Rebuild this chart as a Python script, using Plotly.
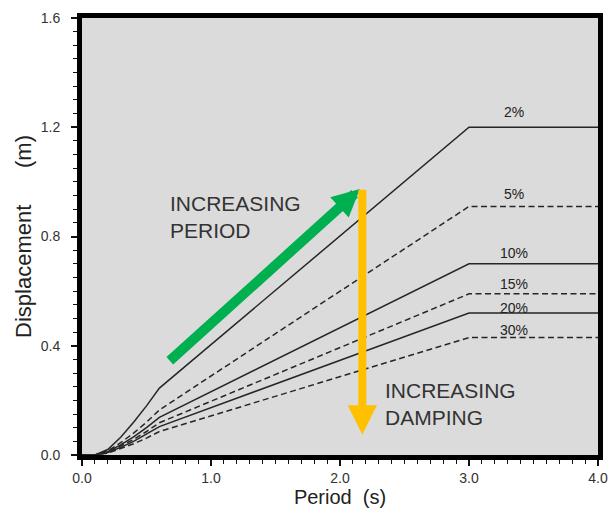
import plotly.graph_objects as go

# Data
periods = [0.0, 0.1, 0.2, 0.3, 0.4, 0.5, 0.6, 3.0, 4.0]
damping_labels = ["2%", "5%", "10%", "15%", "20%", "30%"]
d_2 = [0.0, 0.0, 0.020, 0.065, 0.120, 0.180, 0.245, 1.20, 1.20]
d_5 = [0.0, 0.0, 0.015, 0.045, 0.080, 0.120, 0.165, 0.91, 0.91]
d_10 = [0.0, 0.0, 0.012, 0.037, 0.066, 0.100, 0.138, 0.70, 0.70]
d_15 = [0.0, 0.0, 0.010, 0.032, 0.057, 0.086, 0.118, 0.59, 0.59]
d_20 = [0.0, 0.0, 0.009, 0.028, 0.050, 0.076, 0.104, 0.52, 0.52]
d_30 = [0.0, 0.0, 0.007, 0.023, 0.041, 0.062, 0.086, 0.43, 0.43]
series = [d_2, d_5, d_10, d_15, d_20, d_30]
dash_styles = ["solid", "dash", "solid", "dash", "solid", "dash"]
label_shift = [15, 12, 11, 10, 5, 8]
x_ticks = [0.0, 1.0, 2.0, 3.0, 4.0]
y_ticks = [0.0, 0.4, 0.8, 1.2, 1.6]

# arrows (data coordinates): tail -> head
period_arrow = dict(tail=(0.669, 0.340), head=(2.154, 0.974))
damping_arrow = dict(tail=(2.173, 0.977), head=(2.173, 0.075))

fig = go.Figure()
for name, vals, dash in zip(damping_labels, series, dash_styles):
    fig.add_trace(go.Scatter(
        x=periods, y=vals, mode="lines", name=name,
        line=dict(color="#262626", width=1.5, dash="6px,3.5px" if dash == "dash" else "solid"),
        showlegend=False, hoverinfo="skip"))

# curve labels
for name, vals, ys in zip(damping_labels, series, label_shift):
    fig.add_annotation(x=3.35, y=vals[-1], text=name, showarrow=False,
                       yshift=ys, xanchor="center",
                       font=dict(size=14, color="#222", family="Liberation Sans"))

# Green arrow (increasing period)
fig.add_annotation(x=period_arrow["head"][0], y=period_arrow["head"][1],
                   ax=period_arrow["tail"][0], ay=period_arrow["tail"][1],
                   xref="x", yref="y", axref="x", ayref="y",
                   showarrow=True, arrowhead=2, arrowsize=0.55, arrowwidth=10,
                   arrowcolor="#00B050", text="")
# Orange arrow (increasing damping)
fig.add_annotation(x=damping_arrow["head"][0], y=damping_arrow["head"][1],
                   ax=damping_arrow["tail"][0], ay=damping_arrow["tail"][1],
                   xref="x", yref="y", axref="x", ayref="y",
                   showarrow=True, arrowhead=2, arrowsize=0.73, arrowwidth=8,
                   arrowcolor="#FFC000", text="")

fig.add_annotation(x=0.67, y=0.87, text="INCREASING<br>PERIOD", showarrow=False,
                   xanchor="left", yanchor="middle", align="left",
                   font=dict(size=21, color="#333", family="Liberation Sans"))
fig.add_annotation(x=2.33, y=0.185, text="INCREASING<br>DAMPING", showarrow=False,
                   xanchor="left", yanchor="middle", align="left",
                   font=dict(size=21, color="#333", family="Liberation Sans"))

axis_font = dict(size=14, color="#333", family="Liberation Sans")
common = dict(showgrid=False, zeroline=False, showline=True, linewidth=5,
              linecolor="black", mirror=True, ticks="outside", ticklen=6,
              tickwidth=1.5, tickcolor="#111", automargin=False, tickfont=axis_font)
fig.update_xaxes(range=[0, 4], tickvals=x_ticks, ticktext=[f"{v:.1f}" for v in x_ticks],
                 minor=dict(dtick=0.1, ticks="outside", ticklen=4, tickcolor="#111", tickwidth=1),
                 title=dict(text="Period\u00a0 (s)", font=dict(size=20, color="#222", family="Liberation Sans"), standoff=4),
                 **common)
fig.update_yaxes(range=[0, 1.6], tickvals=y_ticks, ticktext=[f"{v:.1f}" for v in y_ticks],
                 minor=dict(dtick=0.05, ticks="outside", ticklen=4, tickcolor="#111", tickwidth=1),
                 ticklabelstandoff=8,
                 title=dict(text="Displacement" + "\u00a0" * 6 + "(m)", font=dict(size=22, color="#222", family="Liberation Sans"), standoff=5),
                 **common)

fig.update_layout(width=612, height=508, margin=dict(l=82, r=14, t=18, b=53),
                  plot_bgcolor="#dbdbdb", paper_bgcolor="white")

fig.write_html("out.html", config={"displayModeBar": False},
               post_script="document.body.style.margin='0';document.body.style.overflow='hidden';")
